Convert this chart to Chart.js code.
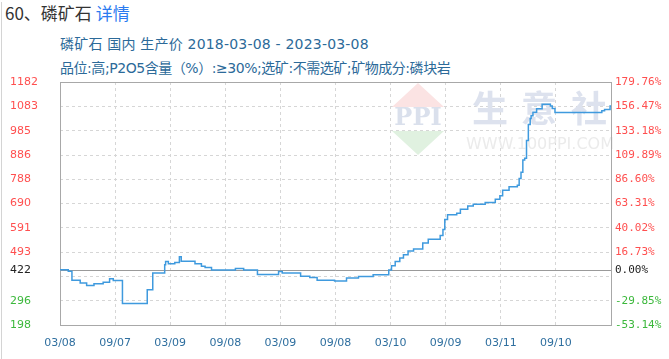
<!DOCTYPE html>
<html>
<head>
<meta charset="utf-8">
<script src="https://cdn.jsdelivr.net/npm/chart.js@4/dist/chart.umd.min.js"></script>
<style>
  body { margin: 0; background: #fff; }
  #wrap { position: relative; width: 669px; height: 359px; overflow: hidden; font-family: "Noto Sans CJK SC", sans-serif; }
  #edge { position: absolute; left: 1px; top: 2px; bottom: 0; border-left: 1px solid #d4d4d4; }
  #title { position: absolute; left: 5px; top: 2px; font-size: 17px; line-height: 22px; color: #333; white-space: nowrap; }
  #title span { color: #2b7bf0; }
  .sub { position: absolute; left: 60px; font-family: "DejaVu Sans", "Noto Sans CJK SC", sans-serif; font-size: 14px; line-height: 20px; color: #2c6a99; white-space: nowrap; }
  canvas { position: absolute; left: 0; top: 0; }
</style>
</head>
<body>
<div id="wrap">
  <div id="edge"></div>
  <div id="title">60、磷矿石 <span>详情</span></div>
  <div class="sub" style="top:34px;letter-spacing:0.2px">磷矿石 国内 生产价 2018-03-08 - 2023-03-08</div>
  <div class="sub" style="top:58px;letter-spacing:-0.45px">品位:高;P2O5含量（%）:≥30%;选矿:不需选矿;矿物成分:磷块岩</div>
  <canvas id="c" width="669" height="359"></canvas>
</div>
<script>
// months since 2018-03-08 where the price changes, and the new price
const months = [0, 0.9, 1.3, 2.2, 2.9, 3.7, 4.7, 5.4, 5.8, 6.8, 9.5, 10.1, 11.4, 11.5, 11.8, 12.5, 13.0, 13.2,
  14.7, 15.4, 15.8, 16.5, 19.1, 20.0, 21.5, 23.8, 24.2, 26.2, 27.2, 28.0, 29.9, 31.2, 32.5, 34.1, 35.8,
  36.1, 36.5, 37.0, 37.4, 37.9, 38.5, 39.5, 40.1, 41.4, 41.7, 41.9, 42.2, 43.2, 43.6, 44.4, 45.0, 46.3,
  47.4, 47.9, 48.2, 48.9, 49.8, 50.0, 50.2, 50.4, 50.6, 50.8, 51.0, 51.2, 51.3, 51.5, 51.9, 52.5, 53.4,
  53.6, 53.9, 59.0, 59.3, 59.9, 60];
const prices = [422, 416, 379, 368, 358, 365, 371, 385, 378, 285, 341, 409, 442, 455, 446, 451, 474, 456,
  446, 436, 431, 421, 427, 421, 403, 415, 409, 395, 390, 379, 376, 388, 394, 401, 421,
  438, 455, 469, 482, 498, 506, 530, 545, 560, 585, 625, 644, 651, 667, 680, 687, 694,
  707, 721, 744, 758, 764, 791, 817, 866, 873, 945, 1010, 1034, 1045, 1060, 1074, 1092, 1085,
  1075, 1058, 1066, 1071, 1085, 1088];

const basePrice = 422;
const xTickMonths = [0, 6, 12, 18, 24, 30, 36, 42, 48, 54, 60];
const xTickLabels = ["03/08", "09/07", "03/09", "09/08", "03/09", "09/08", "03/10", "09/09", "03/11", "09/10", ""];
const yTicks = [198, 296, 394, 422, 493, 591, 690, 788, 886, 985, 1083, 1182];
const leftLabels = ["198", "296", "", "422", "493", "591", "690", "788", "886", "985", "1083", "1182"];
const rightLabels = ["-53.14%", "-29.85%", "", "0.00%", "16.73%", "40.02%", "63.31%", "86.60%",
  "109.89%", "133.18%", "156.47%", "179.76%"];

const RED = "#ff4f4f", GREEN = "#3cb83c", GRID = "#d6d6d6";

const labelColor = ctx => {
  const v = ctx.tick.value;
  return v > basePrice ? RED : v < basePrice ? GREEN : "#222";
};
const gridColor = ctx => {
  const v = ctx.tick && ctx.tick.value;
  if (v === basePrice || v === 198 || v === 1182) return "rgba(0,0,0,0)";
  return GRID;
};

const frame = {
  id: "frame",
  beforeDatasetsDraw(chart) {
    const { ctx, chartArea: a } = chart;
    ctx.save();
    // logo watermark
    const cx = a.left + 358, t = a.top + 1;
    ctx.fillStyle = "#fbe3e3";
    ctx.beginPath(); ctx.moveTo(cx, t); ctx.lineTo(cx + 26, t + 24); ctx.lineTo(cx - 26, t + 24); ctx.closePath(); ctx.fill();
    ctx.fillStyle = "#e0f1e0";
    ctx.beginPath(); ctx.moveTo(cx - 26, t + 48); ctx.lineTo(cx + 26, t + 48); ctx.lineTo(cx, t + 72); ctx.closePath(); ctx.fill();
    ctx.fillStyle = "#dae0ec";
    ctx.textAlign = "center"; ctx.textBaseline = "middle";
    ctx.font = 'bold 24px "DejaVu Serif"';
    ctx.fillText("PPI", cx, t + 36);
    ctx.fillStyle = "#dde2ee";
    ctx.font = 'bold 36px "Noto Sans CJK SC"';
    ctx.fillText("生", a.left + 430, a.top + 26);
    ctx.fillText("意", a.left + 479, a.top + 26);
    ctx.fillText("社", a.left + 529, a.top + 26);
    ctx.fillStyle = "#ebebeb";
    ctx.font = '16px "DejaVu Sans"';
    ctx.fillText("WWW.100PPI.COM", a.left + 480, a.top + 63);
    // base price line
    const y = Math.round(chart.scales.y.getPixelForValue(basePrice)) + 0.5;
    ctx.strokeStyle = "#9a9a9a";
    ctx.lineWidth = 1;
    ctx.beginPath(); ctx.moveTo(a.left, y); ctx.lineTo(a.right, y); ctx.stroke();
    // plot frame
    ctx.strokeStyle = "#a8a8a8";
    ctx.strokeRect(Math.round(a.left) + 0.5, Math.round(a.top) + 0.5, Math.round(a.right - a.left), Math.round(a.bottom - a.top));
    ctx.restore();
  }
};

new Chart(document.getElementById("c"), {
  type: "line",
  data: {
    datasets: [{
      data: months.map((m, i) => ({ x: m, y: prices[i] })),
      borderColor: "#3f9ade",
      borderWidth: 1.5,
      pointRadius: 0,
      stepped: "before",
      fill: false,
    }],
  },
  options: {
    responsive: false,
    devicePixelRatio: 1,
    animation: false,
    layout: { padding: { left: 10, top: 82, right: 0, bottom: 0 } },
    plugins: { legend: { display: false }, tooltip: { enabled: false } },
    scales: {
      x: {
        type: "linear",
        min: 0,
        max: 60,
        afterBuildTicks: s => { s.ticks = xTickMonths.map(v => ({ value: v })) },
        afterFit: s => { s.height = 34 },
        grid: { color: ctx => (ctx.tick && (ctx.tick.value === 0 || ctx.tick.value === 60)) ? "rgba(0,0,0,0)" : GRID, drawTicks: false },
        border: { display: false, dash: [3, 3] },
        ticks: {
          autoSkip: false,
          maxRotation: 0,
          padding: 12,
          color: "#2f6f9f",
          font: { family: "DejaVu Sans", size: 11 },
          callback: (v, i) => xTickLabels[i],
        },
      },
      y: {
        position: "left",
        min: 198,
        max: 1182,
        afterBuildTicks: s => { s.ticks = yTicks.map(v => ({ value: v })) },
        afterFit: s => { s.width = 50 },
        grid: { color: gridColor, drawTicks: false },
        border: { display: false, dash: [3, 3] },
        ticks: {
          autoSkip: false,
          crossAlign: "far",
          color: labelColor,
          font: { family: "DejaVu Sans", size: 11 },
          callback: (v, i) => leftLabels[i],
        },
      },
      y2: {
        position: "right",
        min: 198,
        max: 1182,
        afterBuildTicks: s => { s.ticks = yTicks.map(v => ({ value: v })) },
        afterFit: s => { s.width = 58 },
        grid: { display: false, drawTicks: false },
        border: { display: false },
        ticks: {
          autoSkip: false,
          crossAlign: "near",
          padding: 4,
          color: labelColor,
          font: { family: "DejaVu Sans Mono", size: 11 },
          callback: (v, i) => rightLabels[i],
        },
      },
    },
  },
  plugins: [frame],
});
</script>
</body>
</html>
